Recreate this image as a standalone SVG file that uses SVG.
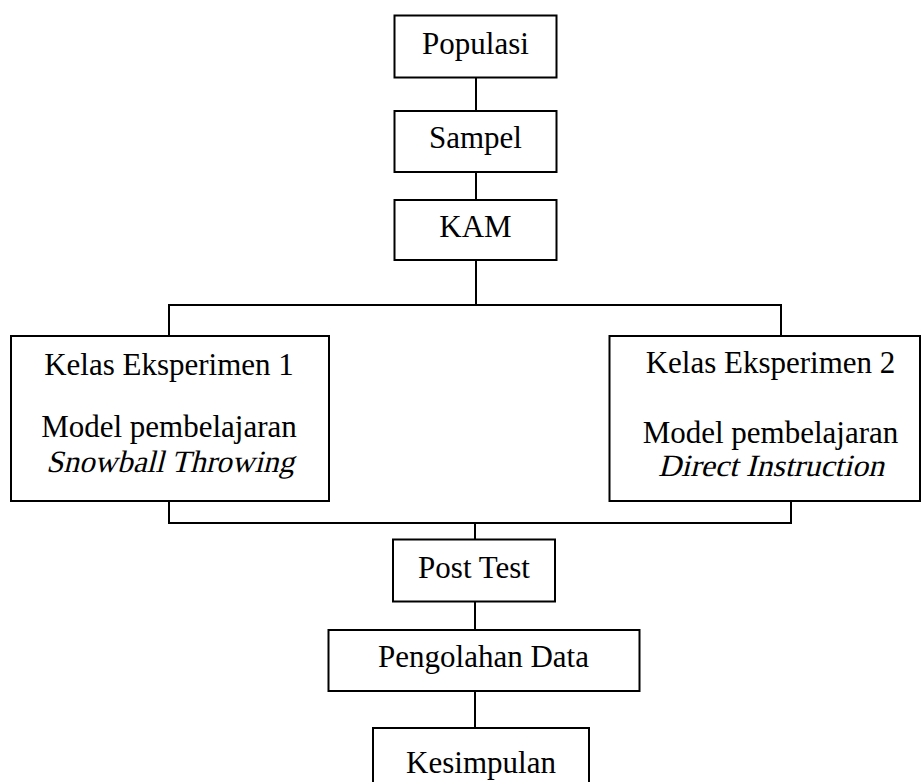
<svg xmlns="http://www.w3.org/2000/svg" width="921" height="782" viewBox="0 0 921 782">
  <style>
    .box { fill: #ffffff; stroke: #000000; stroke-width: 2; }
    .link { fill: none; stroke: #000000; stroke-width: 2; }
    .label { font-family: "Liberation Serif", "Times New Roman", serif; font-size: 31px; fill: #000000; text-anchor: middle; }
  </style>
  <rect width="921" height="782" fill="#ffffff"/>

  <!-- connectors -->
  <g id="connectors">
    <path class="link" d="M476 78 V111"/>
    <path class="link" d="M476 172 V200"/>
    <path class="link" d="M476 260 V305"/>
    <path class="link" d="M169 336 V305 H781 V336"/>
    <path class="link" d="M169 501 V523 H791 V501"/>
    <path class="link" d="M475 523 V539"/>
    <path class="link" d="M475 602 V630"/>
    <path class="link" d="M475 691 V728"/>
  </g>

  <g id="populasi">
    <rect class="box" x="394.5" y="15.5" width="162" height="62"/>
    <text class="label" x="475.5" y="54">Populasi</text>
  </g>

  <g id="sampel">
    <rect class="box" x="394.5" y="111" width="162" height="61"/>
    <text class="label" x="475.5" y="148">Sampel</text>
  </g>

  <g id="kam">
    <rect class="box" x="394.5" y="200" width="162" height="60"/>
    <text class="label" x="475.5" y="237">KAM</text>
  </g>

  <g id="kelas-eksperimen-1">
    <rect class="box" x="11" y="336" width="318" height="165"/>
    <text class="label" x="169" y="375">Kelas Eksperimen 1</text>
    <text class="label" x="169" y="437">Model pembelajaran</text>
    <!-- slanted serif for the model name -->
    <g transform="translate(170 472) skewX(-14)">
      <text class="label" x="0" y="0" textLength="248" lengthAdjust="spacingAndGlyphs">Snowball Throwing</text>
    </g>
  </g>

  <g id="kelas-eksperimen-2">
    <rect class="box" x="609.5" y="336" width="310.5" height="165"/>
    <text class="label" x="770.5" y="373">Kelas Eksperimen 2</text>
    <text class="label" x="770.5" y="443">Model pembelajaran</text>
    <g transform="translate(771 476) skewX(-14)">
      <text class="label" x="0" y="0" textLength="226" lengthAdjust="spacingAndGlyphs">Direct Instruction</text>
    </g>
  </g>

  <g id="post-test">
    <rect class="box" x="393" y="539.5" width="162" height="62"/>
    <text class="label" x="474" y="578">Post Test</text>
  </g>

  <g id="pengolahan-data">
    <rect class="box" x="328.5" y="630" width="311" height="61"/>
    <text class="label" x="483.5" y="667">Pengolahan Data</text>
  </g>

  <g id="kesimpulan">
    <rect class="box" x="373" y="728" width="216" height="70"/>
    <text class="label" x="481" y="773">Kesimpulan</text>
  </g>
</svg>
